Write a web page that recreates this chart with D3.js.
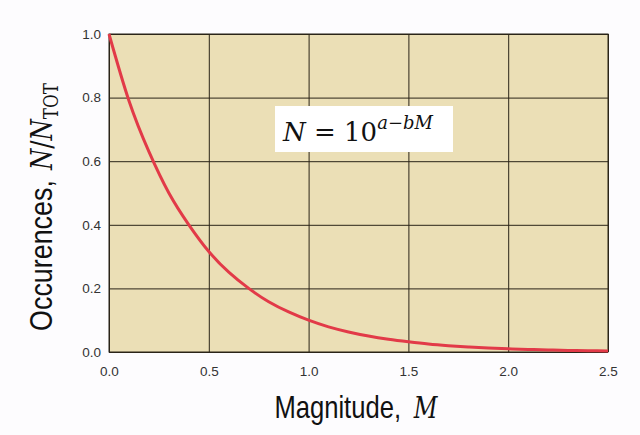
<!DOCTYPE html>
<html><head><meta charset="utf-8">
<script src="https://cdn.jsdelivr.net/npm/d3@7"></script>
<style>
html,body{margin:0;padding:0;background:#fdfcfe;}
svg{display:block;}
</style></head>
<body>
<svg id="c" width="640" height="435"></svg>
<script>
const magnitudes = [0,0.1,0.2,0.3,0.4,0.5,0.6,0.7,0.8,0.9,1.0,1.1,1.2,1.3,1.4,1.5,1.6,1.7,1.8,1.9,2.0,2.1,2.2,2.3,2.4,2.5];
const occurrences = [1.0,0.79,0.63,0.50,0.40,0.316,0.251,0.20,0.158,0.126,0.10,0.079,0.063,0.05,0.04,0.032,0.025,0.02,0.016,0.0125,0.01,0.008,0.0063,0.005,0.004,0.0032];
const xTicks = [0,0.5,1.0,1.5,2.0,2.5];
const yTicks = [0,0.2,0.4,0.6,0.8,1.0];

const svg = d3.select("#c");
const L=109, R=608, T=34, B=352;
const x = d3.scaleLinear().domain([0,2.5]).range([L,R]);
const y = d3.scaleLinear().domain([0,1]).range([B,T]);

svg.append("rect").attr("x",L).attr("y",T).attr("width",R-L).attr("height",B-T).attr("fill","#ebdfb6");

const gx = svg.append("g").attr("transform",`translate(0,${B})`)
  .call(d3.axisBottom(x).tickValues(xTicks).tickFormat(d3.format(".1f")).tickSize(-(B-T)).tickPadding(14));
const gy = svg.append("g").attr("transform",`translate(${L},0)`)
  .call(d3.axisLeft(y).tickValues(yTicks).tickFormat(d3.format(".1f")).tickSize(-(R-L)).tickPadding(8));
[gx,gy].forEach(g=>{
  g.select(".domain").remove();
  g.selectAll(".tick line").attr("stroke","#2a2418").attr("stroke-width",1);
  g.selectAll(".tick text").attr("fill","#333").style("font-family","Liberation Sans, Arial, sans-serif").style("font-size","13.5px");
});
svg.append("rect").attr("x",L).attr("y",T).attr("width",R-L).attr("height",B-T).attr("fill","none").attr("stroke","#2a2418").attr("stroke-width",1);

const line = d3.line().x((d,i)=>x(magnitudes[i])).y(d=>y(d)).curve(d3.curveNatural);
svg.append("path").datum(occurrences).attr("d",line).attr("fill","none").attr("stroke","#e23a48").attr("stroke-width",3);

// formula box
svg.append("rect").attr("x",275).attr("y",106).attr("width",178).attr("height",46).attr("fill","#ffffff");
const f = svg.append("text").attr("x",283).attr("y",141).attr("text-anchor","start")
  .style("font-family","DejaVu Serif, Liberation Serif, serif").style("font-size","26px").attr("fill","#111");
f.append("tspan").style("font-style","italic").text("N");
f.append("tspan").text(" = 10");
f.append("tspan").attr("dy",-12).style("font-size","18px").style("font-style","italic").text("a");
f.append("tspan").style("font-size","18px").text("\u2212");
f.append("tspan").style("font-size","18px").style("font-style","italic").text("bM");

const serif = "DejaVu Serif, Liberation Serif, serif";
// x label
const xl = svg.append("text").attr("transform","translate(356,418) scale(0.8,1)").attr("text-anchor","middle")
  .style("font-family","Liberation Sans, Arial, sans-serif").style("font-size","32px").attr("fill","#111");
xl.append("tspan").text("Magnitude,");
xl.append("tspan").attr("dx",16).style("font-family",serif).style("font-style","italic").style("font-size","29px").text("M");

// y label
const yl = svg.append("text").attr("transform","translate(52,207) rotate(-90) scale(0.84,1)").attr("text-anchor","middle")
  .style("font-family","Liberation Sans, Arial, sans-serif").style("font-size","32px").attr("fill","#111");
yl.append("tspan").text("Occurences,");
yl.append("tspan").attr("dx",12).style("font-family",serif).style("font-style","italic").style("font-size","29px").text("N");
yl.append("tspan").style("font-family",serif).style("font-size","29px").text("/");
yl.append("tspan").style("font-family",serif).style("font-style","italic").style("font-size","29px").text("N");
yl.append("tspan").attr("dy",6).style("font-family",serif).style("font-size","20px").text("TOT");
</script>
</body></html>
